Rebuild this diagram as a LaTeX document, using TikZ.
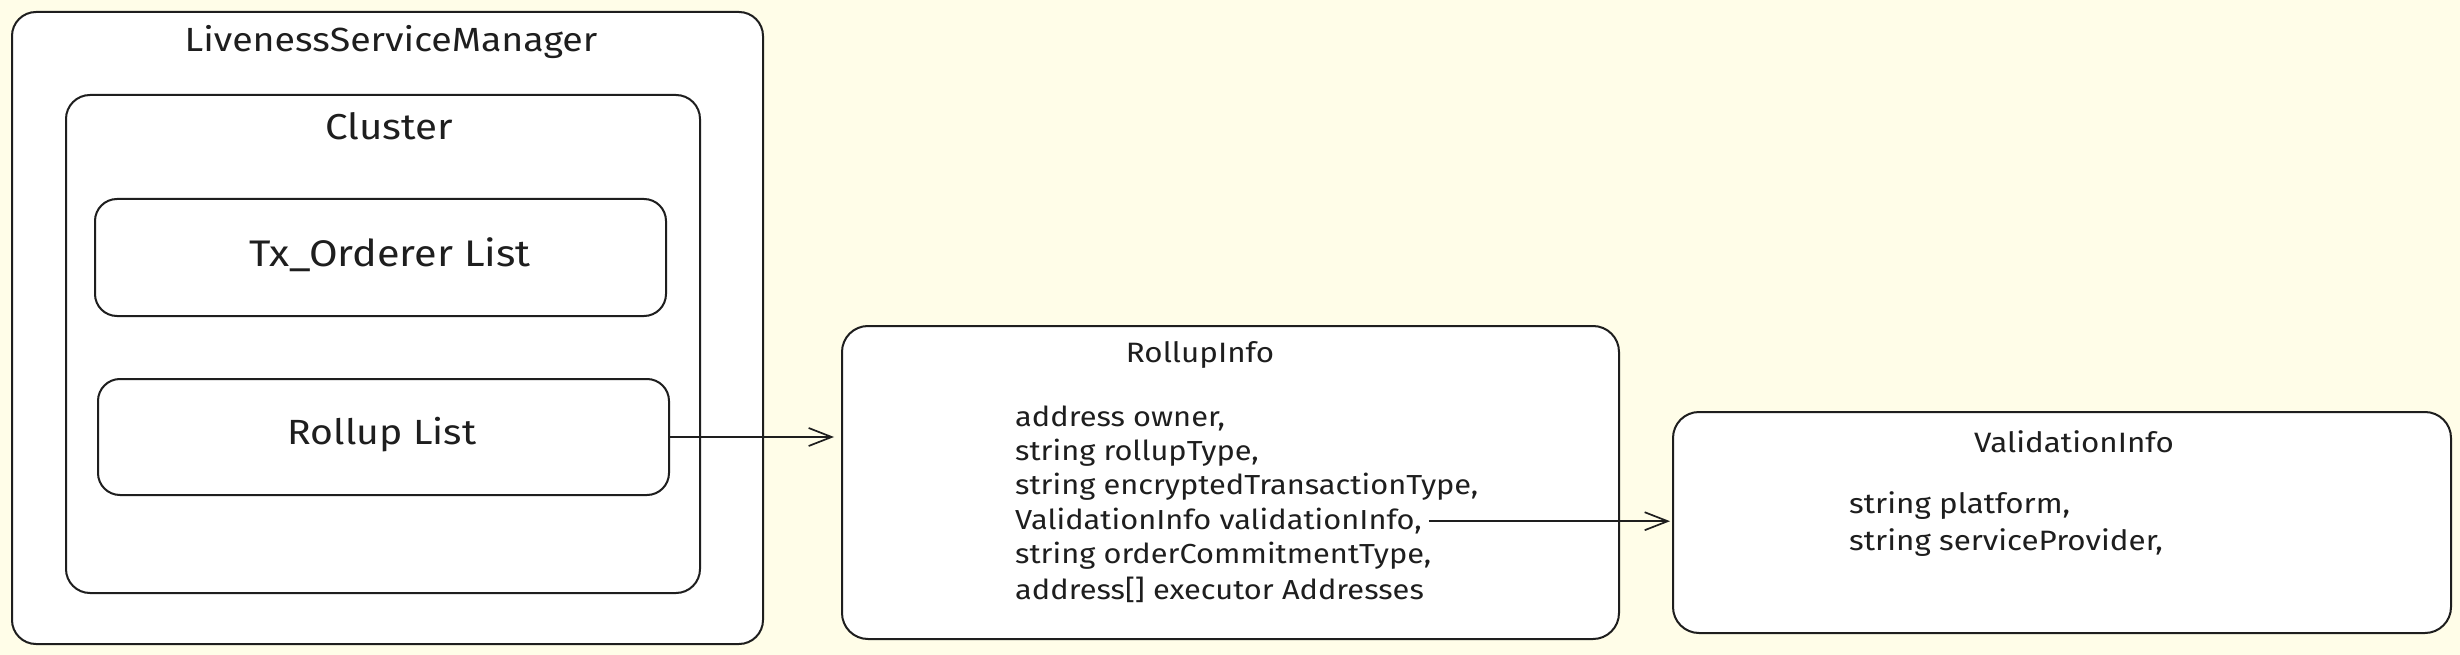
\documentclass[tikz,border=0pt]{standalone}
\usepackage{fontspec}
\setmainfont{Fira Sans}[FakeStretch=1.12]
\usetikzlibrary{arrows.meta}
\definecolor{bg}{RGB}{255,253,232}
\definecolor{ink}{RGB}{30,30,30}
\begin{document}
\begin{tikzpicture}[x=1pt,y=-1pt,
  box/.style={draw=ink, fill=white, line width=2pt, rounded corners=24pt, inner sep=0pt, anchor=north west},
  big/.style={font=\fontsize{36}{40}\selectfont, text=ink, inner sep=0pt},
  ttl/.style={font=\fontsize{28}{32}\selectfont, text=ink, inner sep=0pt},
  body/.style={font=\fontsize{27.5}{32}\selectfont, text=ink, inner sep=0pt, anchor=west},
  conn/.style={draw=ink, line width=1.7pt, -{Straight Barb[length=23pt,width=18pt]}}]
\fill[bg] (0,0) rectangle (2460,655);
\useasboundingbox (0,0) rectangle (2460,655);
% boxes
\node[box, minimum width=751pt, minimum height=632pt] (lsm) at (11,11) {};
\node[box, minimum width=634pt, minimum height=498pt] (cl) at (65,94) {};
\node[box, minimum width=571pt, minimum height=117pt, rounded corners=22pt] (tx) at (94,198) {};
\node[box, minimum width=571pt, minimum height=116pt, rounded corners=22pt] (rl) at (97,378) {};
\node[box, minimum width=777pt, minimum height=313pt, rounded corners=26pt] (ri) at (841,325) {};
\node[box, minimum width=778pt, minimum height=221pt, rounded corners=26pt] (vi) at (1672,411) {};
% texts
\node[big, font=\fontsize{33.5}{40}\selectfont] (lsmt) at (391,42) {LivenessServiceManager};
\node[big] (clt) at (389,126) {Cluster};
\node[big, font=\fontsize{37}{40}\selectfont] (txt) at (390,255) {Tx\_Orderer List};
\node[big, font=\fontsize{35}{40}\selectfont] (rlt) at (382,435) {Rollup List};
\node[ttl] (rit) at (1200,355) {RollupInfo};
\node[body] (l1) at (1015,418) {address owner,};
\node[body] (l2) at (1015,452.4) {string rollupType,};
\node[body] (l3) at (1015,486.8) {string encryptedTransactionType,};
\node[body] (l4) at (1015,521.2) {ValidationInfo validationInfo,};
\node[body] (l5) at (1015,555.6) {string orderCommitmentType,};
\node[body] (l6) at (1015,590) {address[] executor Addresses};
\node[ttl] (vit) at (2074,442) {ValidationInfo};
\node[body, font=\fontsize{28}{32}\selectfont] (v1) at (1849,506) {string platform,};
\node[body, font=\fontsize{28}{32}\selectfont] (v2) at (1849,543) {string serviceProvider,};
% connectors
\draw[conn, shorten >=7pt] (rl.east) -- (rl.east -| ri.west);
\draw[conn, shorten >=2pt] ([xshift=7pt]l4.east) -- (l4.east -| vi.west);
\end{tikzpicture}
\end{document}
